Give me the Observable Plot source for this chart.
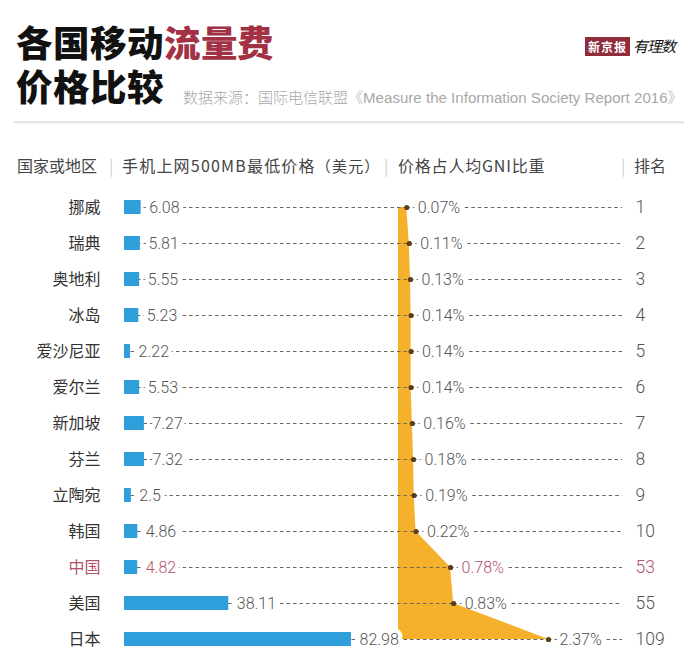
<!DOCTYPE html>
<html>
<head>
<meta charset="utf-8">
<script src="https://cdn.jsdelivr.net/npm/d3@7"></script>
<script src="https://cdn.jsdelivr.net/npm/@observablehq/plot@0.6"></script>
<style>
  @font-face { font-family: "TitleCJK"; font-weight: 900;
    src: local("Noto Sans CJK SC Black"), local("NotoSansCJKsc-Black"), local("Noto Sans CJK SC Bold"), local("NotoSansCJKsc-Bold");
    ascent-override: 88%; descent-override: 12%; line-gap-override: 0%; }
  body { margin: 0; background: #fff; }
  #wrap { position: relative; width: 700px; height: 657px; overflow: hidden; background: #fff;
          font-family: "Noto Sans CJK SC", "Liberation Sans", sans-serif; }
  .abs { position: absolute; white-space: nowrap; }
  .title { left: 16px; top: 21px; font-family: "TitleCJK", "Noto Sans CJK SC", sans-serif; font-size: 36.5px; line-height: 44px; font-weight: 900; color: #111; letter-spacing: 0.9px; }
  .sub { left: 183px; top: 88px; font-size: 15px; line-height: 18px; color: #a8a8a8; font-weight: 300; }
  .sub .en { font-family: "Liberation Sans", Arial, sans-serif; font-size: 15.1px; }
  .logo { left: 585px; top: 38px; font-size: 12px; line-height: 16px; }
  .logo .box { background: #8f2d3c; color: #fff; font-weight: 700; padding: 1px 3px; letter-spacing: 1px; }
  .logo .yl { font-style: italic; font-size: 15px; color: #111; margin-left: 3px; letter-spacing: -1px; }
  .sep { left: 14px; top: 121px; width: 670px; height: 2px; background: #e4e4e4; box-shadow: 0 1px 2px rgba(0,0,0,0.06); }
  .hdr { top: 154px; font-size: 16px; line-height: 22px; color: #444; }
  .bar { top: 154px; font-size: 16px; line-height: 22px; color: #cfcfcf; }
  #chart { position: absolute; left: 0; top: 140px; width: 700px; height: 517px; }
  #chart svg { position: absolute; left: 0; top: 0; }
</style>
</head>
<body>
<div id="wrap">
  <div class="abs title">各国移动<span style="color:#a33144">流量费</span><br>价格比较</div>
  <div class="abs sub">数据来源：国际电信联盟《<span class="en">Measure the Information Society Report 2016</span>》</div>
  <div class="abs logo"><span class="box">新京报</span><span class="yl">有理数</span></div>
  <div class="abs sep"></div>
  <div class="abs hdr" style="left:17px">国家或地区</div>
  <div class="abs bar" style="left:109px">|</div>
  <div class="abs hdr" style="left:122px;letter-spacing:1.2px">手机上网500MB最低价格<span style="font-size:15px">（美元）</span></div>
  <div class="abs bar" style="left:384px">|</div>
  <div class="abs hdr" style="left:398px;letter-spacing:0.8px">价格占人均GNI比重</div>
  <div class="abs bar" style="left:621px">|</div>
  <div class="abs hdr" style="left:634px">排名</div>
  <div id="chart"></div>
</div>
<script>
// ---- data ----
const countries = ["挪威","瑞典","奥地利","冰岛","爱沙尼亚","爱尔兰","新加坡","芬兰","立陶宛","韩国","中国","美国","日本"];
const prices    = [6.08, 5.81, 5.55, 5.23, 2.22, 5.53, 7.27, 7.32, 2.5, 4.86, 4.82, 38.11, 82.98];
const gniShare  = [0.07, 0.11, 0.13, 0.14, 0.14, 0.14, 0.16, 0.18, 0.19, 0.22, 0.78, 0.83, 2.37];
const ranks     = [1, 2, 3, 4, 5, 6, 7, 8, 9, 10, 53, 55, 109];
const highlight = "中国";

const rows = countries.map((c, i) => ({country: c, price: prices[i], gni: gniShare[i], rank: ranks[i]}));

const hl = "#b4516b";
const txt = d => d.country === highlight ? hl : "#555";
const numFont = "Roboto, 'Liberation Sans', sans-serif";
const haloOnly = {fill: "white", stroke: "white", strokeWidth: 9, strokeLinejoin: "round"};
const halo = {stroke: "white", strokeWidth: 9, strokeLinejoin: "round"};
const dash = {stroke: "#6f655c", strokeWidth: 1, strokeDasharray: "3.5,3"};

const W = 700, H = 517, ML = 124, MR = 76;
const yScale = {type: "band", domain: countries, range: [49, H], paddingInner: 0.6, paddingOuter: 0.3, axis: null};
const gniX = {domain: [0, 2.37], range: [402, 548], axis: null};
const common = {width: W, height: H, marginTop: 0, marginBottom: 0, marginLeft: ML, marginRight: MR,
  style: {background: "transparent", overflow: "visible"}};

// frame edges expressed in the GNI scale (leader lines run from the bar start to the rank column)
const gs = Plot.scale({x: {domain: gniX.domain, range: gniX.range}});
const invert = gs.invert ? (p) => gs.invert(p)
  : (p) => gniX.domain[0] + (p - gniX.range[0]) / (gniX.range[1] - gniX.range[0]) * (gniX.domain[1] - gniX.domain[0]);
const leftEdge = invert(ML), rightEdge = invert(W - MR - 2);
const areaBase = invert(398);

const pctText = d => d.gni.toFixed(2) + "%";
const pctOpts = {y: "country", x: "gni", text: pctText, dx: 11, textAnchor: "start", fontSize: 16, fontFamily: numFont, fontWeight: 300};
const rankOpts = {y: "country", text: d => String(d.rank), frameAnchor: "right", dx: 11, textAnchor: "start", fontSize: 17.5, fontFamily: numFont, fontWeight: 300};

// Bottom layer: GNI share area, leader lines, dots, labels
const gniPlot = Plot.plot({
  ...common,
  x: gniX,
  y: yScale,
  marks: [
    Plot.ruleY(rows, {y: "country", x1: "gni", x2: rightEdge, ...dash}),
    Plot.text(rows, {...pctOpts, ...haloOnly}),
    Plot.text(rows, {...rankOpts, ...haloOnly}),
    Plot.areaX(rows, {y: "country", x1: areaBase, x2: "gni", fill: "#f5b12c", curve: "linear"}),
    Plot.ruleY(rows, {y: "country", x1: leftEdge, x2: "gni", ...dash}),
    Plot.dot(rows, {y: "country", x: "gni", r: 2.6, fill: "#5a3d1a"}),
    Plot.text(rows, {...pctOpts, fill: txt}),
    Plot.text(rows, {...rankOpts, fill: txt}),
    Plot.text(rows, {y: "country", text: "country", frameAnchor: "left", dx: -24, textAnchor: "end",
      fill: d => d.country === highlight ? hl : "#333", fontSize: 16, fontFamily: "'Noto Sans CJK SC', sans-serif"})
  ]
});

// Top layer: price bars and their labels
const pricePlot = Plot.plot({
  ...common,
  x: {domain: [0, 82.98], range: [124, 351], axis: null},
  y: yScale,
  marks: [
    Plot.barX(rows, {y: "country", x: "price", fill: "#2f9fdc"}),
    Plot.text(rows, {y: "country", x: "price", text: d => String(d.price), dx: 8, textAnchor: "start",
      fill: txt, ...halo, fontSize: 16, fontFamily: numFont, fontWeight: 300})
  ]
});

const chart = document.getElementById("chart");
chart.appendChild(gniPlot);
chart.appendChild(pricePlot);
</script>
</body>
</html>
